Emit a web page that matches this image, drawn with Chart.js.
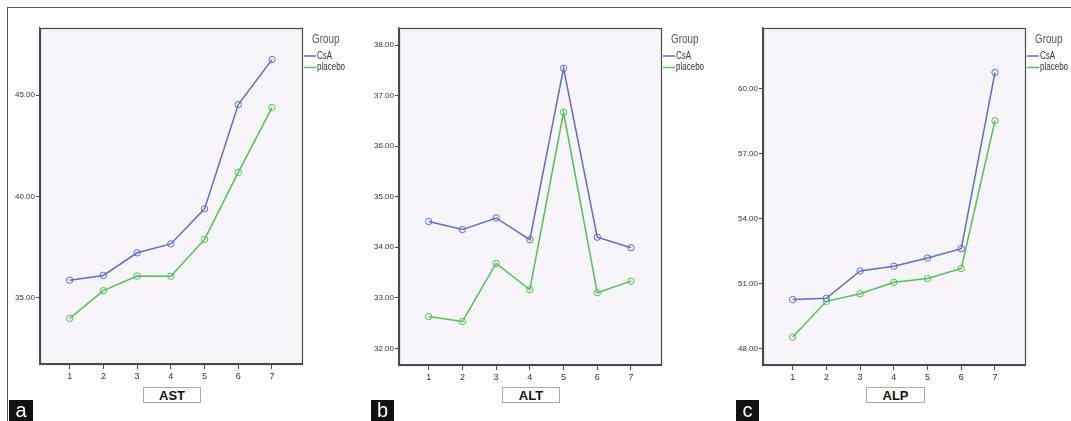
<!DOCTYPE html>
<html>
<head>
<meta charset="utf-8">
<script src="https://cdn.jsdelivr.net/npm/chart.js@4.4.1/dist/chart.umd.min.js"></script>
<style>
  html, body { margin: 0; padding: 0; background: #fff; }
  #wrap { position: relative; width: 1071px; height: 421px; overflow: hidden; }
  #frame { position: absolute; left: 7px; top: 7px; width: 1070px; height: 420px;
           border-left: 1px solid #555; border-top: 1px solid #555; }
  canvas.panel { position: absolute; top: 0; }
  .xtitle { position: absolute; height: 14px; border: 1px solid #aaa; background: #fff;
            font: bold 13px "Liberation Sans", Arial, sans-serif; text-align: center; line-height: 15px; color: #111; }
  .tag { position: absolute; top: 400px; height: 21px; background: #111; color: #fff;
         font: 20px "Liberation Sans", Arial, sans-serif; text-align: center; line-height: 20px; }
</style>
</head>
<body>
<div id="wrap">
  <div id="frame"></div>
  <canvas class="panel" id="chartA" width="357" height="421" style="left:0"></canvas>
  <canvas class="panel" id="chartB" width="357" height="421" style="left:357px"></canvas>
  <canvas class="panel" id="chartC" width="357" height="421" style="left:714px"></canvas>
  <div class="xtitle" style="left:143px;top:387px;width:56px">AST</div>
  <div class="xtitle" style="left:502px;top:387px;width:56px">ALT</div>
  <div class="xtitle" style="left:866px;top:387px;width:57px">ALP</div>
  <div class="tag" style="left:9px;width:24px">a</div>
  <div class="tag" style="left:371px;width:23px">b</div>
  <div class="tag" style="left:736px;width:23px">c</div>
</div>
<script>
'use strict';

// ─── Data ─────────────────────────────────────────────────────
const visits     = [1, 2, 3, 4, 5, 6, 7];
const groups     = ['CsA', 'placebo'];

const astCsA     = [35.87, 36.10, 37.22, 37.66, 39.39, 44.54, 46.76];
const astPlacebo = [33.98, 35.35, 36.07, 36.06, 37.88, 41.19, 44.39];
const astTicks   = [35, 40, 45];

const altCsA     = [34.51, 34.35, 34.58, 34.15, 37.54, 34.20, 33.99];
const altPlacebo = [32.63, 32.53, 33.68, 33.16, 36.67, 33.10, 33.33];
const altTicks   = [32, 33, 34, 35, 36, 37, 38];

const alpCsA     = [50.25, 50.31, 51.57, 51.79, 52.17, 52.60, 60.74];
const alpPlacebo = [48.52, 50.17, 50.52, 51.05, 51.22, 51.69, 58.51];
const alpTicks   = [48, 51, 54, 57, 60];

const BLUE  = '#5b6fc9';
const GREEN = '#4fc451';
const AXIS  = '#4a4a4a';
const NARROW = '"Liberation Sans Narrow", "Arial Narrow", "Liberation Sans", sans-serif';

// ─── Plugins ──────────────────────────────────────────────────
const plotFrame = {
  id: 'plotFrame',
  beforeDraw(chart) {
    const { ctx, chartArea: a } = chart;
    ctx.save();
    ctx.fillStyle = '#f7f5f9';
    ctx.fillRect(a.left, a.top, a.right - a.left, a.bottom - a.top);
    ctx.restore();
  },
  afterDraw(chart) {
    const { ctx, chartArea: a } = chart;
    ctx.save();
    ctx.strokeStyle = AXIS;
    ctx.lineWidth = 1.2;
    ctx.strokeRect(Math.round(a.left) + 0.5, Math.round(a.top) + 0.5,
                   Math.round(a.right - a.left), Math.round(a.bottom - a.top));
    ctx.restore();
  }
};

// condensed text: squeeze horizontally like the SPSS narrow font
function narrowText(ctx, text, x, y, squeeze) {
  ctx.save();
  ctx.translate(x, y);
  ctx.scale(squeeze, 1);
  ctx.fillText(text, 0, 0);
  ctx.restore();
}

const groupLegend = {
  id: 'groupLegend',
  afterDraw(chart) {
    const { ctx, chartArea: a } = chart;
    const x = a.right;
    ctx.save();
    ctx.fillStyle = '#555';
    ctx.font = '12px ' + NARROW;
    ctx.textBaseline = 'middle';
    narrowText(ctx, 'Group', x + 10, a.top + 12, 0.82);
    ctx.font = '10px ' + NARROW;
    chart.data.datasets.forEach((ds, i) => {
      const y = a.top + 28 + i * 11.5;
      ctx.strokeStyle = ds.borderColor;
      ctx.lineWidth = 1.5;
      ctx.beginPath();
      ctx.moveTo(x + 2, y);
      ctx.lineTo(x + 14, y);
      ctx.stroke();
      ctx.fillStyle = '#333';
      narrowText(ctx, ds.label, x + 15, y, 0.8);
    });
    ctx.restore();
  }
};

// ─── Chart builder ────────────────────────────────────────────
function makePanel(id, csa, placebo, yTicks, yMin, yMax, box) {
  const series = [csa, placebo];
  const colors = [BLUE, GREEN];

  return new Chart(document.getElementById(id), {
    type: 'line',
    data: {
      datasets: groups.map((g, i) => ({
        label: g,
        data: series[i].map((v, k) => ({ x: visits[k], y: v })),
        borderColor: colors[i],
        borderWidth: 1.5,
        pointRadius: 3.2,
        pointBorderWidth: 1,
        pointBackgroundColor: 'rgba(0,0,0,0)',
        pointBorderColor: colors[i],
        tension: 0,
        fill: false,
      }))
    },
    options: {
      responsive: false,
      animation: false,
      events: [],
      layout: { padding: { top: box.top, right: box.right, left: 0, bottom: 0 } },
      plugins: { legend: { display: false }, tooltip: { enabled: false } },
      scales: {
        x: {
          type: 'linear', min: 0.12, max: 7.89,
          afterBuildTicks: s => { s.ticks = visits.map(v => ({ value: v })); },
          afterFit: s => { s.height = box.xh; },
          grid: { drawOnChartArea: false, drawTicks: true, tickLength: 5, color: AXIS },
          border: { display: true, color: AXIS, width: 1.2 },
          ticks: { color: '#333', font: { family: NARROW, size: 9 }, padding: 2 },
        },
        y: {
          type: 'linear', min: yMin, max: yMax,
          afterBuildTicks: s => { s.ticks = yTicks.map(v => ({ value: v })); },
          afterFit: s => { s.width = box.yw; },
          grid: { drawOnChartArea: false, drawTicks: true, tickLength: 4, color: AXIS },
          border: { display: true, color: AXIS, width: 1.2 },
          ticks: { color: '#333', font: { family: NARROW, size: 8 }, padding: 1,
                   callback: v => Number(v).toFixed(2) },
        }
      }
    },
    plugins: [plotFrame, groupLegend]
  });
}

makePanel('chartA', astCsA, astPlacebo, astTicks, 31.73, 48.32, { top: 28, right: 55, xh: 57, yw: 40 });
makePanel('chartB', altCsA, altPlacebo, altTicks, 31.67, 38.34, { top: 28, right: 53, xh: 56, yw: 42 });
makePanel('chartC', alpCsA, alpPlacebo, alpTicks, 47.23, 62.79, { top: 28, right: 46, xh: 56, yw: 49 });
</script>
</body>
</html>
